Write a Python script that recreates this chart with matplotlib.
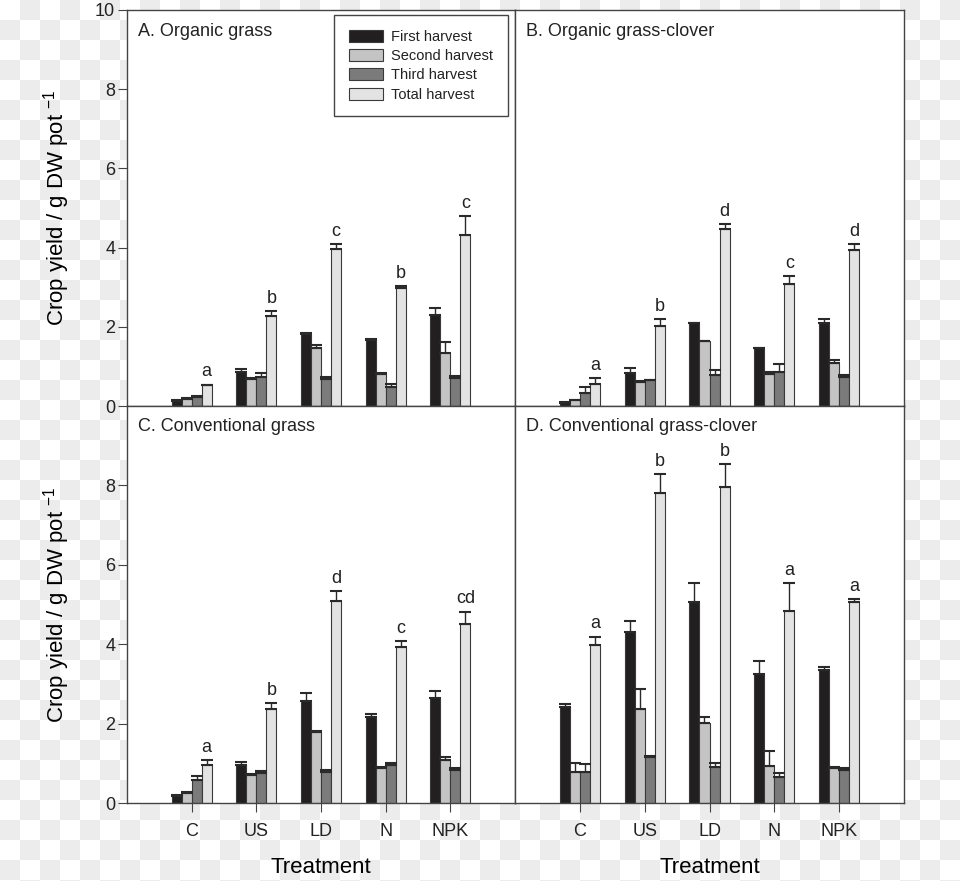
import numpy as np
import matplotlib.pyplot as plt

plt.rcParams['font.family'] = ['Liberation Sans', 'DejaVu Sans']
plt.rcParams['mathtext.fontset'] = 'custom'
plt.rcParams['mathtext.rm'] = 'Liberation Sans'
plt.rcParams['mathtext.default'] = 'regular'
plt.rcParams['text.color'] = '#222222'

treatments = ['C', 'US', 'LD', 'N', 'NPK']
harvests = ['First harvest', 'Second harvest', 'Third harvest', 'Total harvest']
colors = ['#221f20', '#c4c4c4', '#7b7b7b', '#e3e3e3']

# A. Organic grass
a_first = [0.13, 0.87, 1.81, 1.66, 2.29]
a_second = [0.17, 0.68, 1.47, 0.82, 1.35]
a_third = [0.22, 0.73, 0.68, 0.49, 0.70]
a_total = [0.52, 2.27, 3.97, 2.99, 4.33]
a_err_first = [0.02, 0.07, 0.04, 0.02, 0.19]
a_err_second = [0.02, 0.02, 0.08, 0.02, 0.26]
a_err_third = [0.02, 0.11, 0.06, 0.06, 0.07]
a_err_total = [0.02, 0.13, 0.12, 0.04, 0.46]
a_letters = ['a', 'b', 'c', 'b', 'c']

# B. Organic grass-clover
b_first = [0.08, 0.84, 2.09, 1.46, 2.10]
b_second = [0.14, 0.61, 1.63, 0.82, 1.09]
b_third = [0.32, 0.65, 0.79, 0.86, 0.73]
b_total = [0.56, 2.03, 4.46, 3.09, 3.93]
b_err_first = [0.03, 0.11, 0.01, 0.01, 0.09]
b_err_second = [0.01, 0.02, 0.02, 0.04, 0.07]
b_err_third = [0.15, 0.01, 0.12, 0.19, 0.05]
b_err_total = [0.15, 0.16, 0.13, 0.19, 0.16]
b_letters = ['a', 'b', 'd', 'c', 'd']

# C. Conventional grass
c_first = [0.17, 0.95, 2.56, 2.16, 2.64]
c_second = [0.25, 0.70, 1.79, 0.88, 1.08]
c_third = [0.58, 0.75, 0.77, 0.96, 0.83]
c_total = [0.96, 2.36, 5.08, 3.93, 4.52]
c_err_first = [0.03, 0.09, 0.22, 0.09, 0.18]
c_err_second = [0.02, 0.02, 0.02, 0.03, 0.09]
c_err_third = [0.10, 0.05, 0.05, 0.05, 0.05]
c_err_total = [0.12, 0.16, 0.26, 0.15, 0.30]
c_letters = ['a', 'b', 'd', 'c', 'cd']

# D. Conventional grass-clover
d_first = [2.42, 4.31, 5.06, 3.24, 3.36]
d_second = [0.78, 2.38, 2.02, 0.93, 0.88]
d_third = [0.78, 1.17, 0.90, 0.66, 0.83]
d_total = [3.98, 7.80, 7.96, 4.83, 5.06]
d_err_first = [0.08, 0.28, 0.47, 0.33, 0.06]
d_err_second = [0.23, 0.48, 0.15, 0.39, 0.02]
d_err_third = [0.20, 0.02, 0.12, 0.09, 0.04]
d_err_total = [0.21, 0.48, 0.57, 0.70, 0.07]
d_letters = ['a', 'b', 'b', 'a', 'a']

panels = [
    ('A. Organic grass', [a_first, a_second, a_third, a_total],
     [a_err_first, a_err_second, a_err_third, a_err_total], a_letters),
    ('B. Organic grass-clover', [b_first, b_second, b_third, b_total],
     [b_err_first, b_err_second, b_err_third, b_err_total], b_letters),
    ('C. Conventional grass', [c_first, c_second, c_third, c_total],
     [c_err_first, c_err_second, c_err_third, c_err_total], c_letters),
    ('D. Conventional grass-clover', [d_first, d_second, d_third, d_total],
     [d_err_first, d_err_second, d_err_third, d_err_total], d_letters),
]

W, H = 960, 881
fig = plt.figure(figsize=(W / 100, H / 100), dpi=100)

# checkered background of the source image
bg = fig.add_axes([0, 0, 1, 1], zorder=-5)
nx, ny = W // 20 + 1, H // 20 + 1
ii, jj = np.meshgrid(np.arange(nx), np.arange(ny))
chk = np.where(((ii + jj) % 2)[..., None] == 1, 236 / 255, 1.0) * np.ones(3)
bg.imshow(chk, extent=(0, nx * 20, ny * 20, 0), interpolation='nearest', aspect='auto')
bg.set_xlim(0, W)
bg.set_ylim(H, 0)
bg.axis('off')

# axes rectangles in pixels: (left, top, right, bottom)
rects = [(127, 10, 515, 406), (515, 10, 904, 406),
         (127, 406, 515, 803), (515, 406, 904, 803)]

x = np.arange(1, len(treatments) + 1)
bw = 10 / 64.7
offs = [-1.5 * bw, -0.5 * bw, 0.5 * bw, 1.5 * bw]
edge = '#3a3a3a'

axes = []
for k, (rect, (title, vals, errs, letters)) in enumerate(zip(rects, panels)):
    l, t, r, b = rect
    ax = fig.add_axes([l / W, (H - b) / H, (r - l) / W, (b - t) / H])
    axes.append(ax)
    for j in range(4):
        ax.bar(x + offs[j], vals[j], bw, color=colors[j], edgecolor=edge,
               linewidth=0.8, label=harvests[j], zorder=2)
        ax.errorbar(x + offs[j], vals[j], yerr=[np.zeros(5), errs[j]], fmt='none',
                    ecolor='#2a2a2a', elinewidth=1.0, capsize=4.3, capthick=1.5, zorder=3)
    tops = np.array(vals[3]) + np.array(errs[3])
    for xi, yi, lab in zip(x + offs[3], tops, letters):
        ax.annotate(lab, (xi, yi), xytext=(0, 3), textcoords='offset points',
                    ha='center', va='bottom', fontsize=13)
    ax.set_xlim(0, 6)
    ax.set_ylim(0, 10)
    ax.text(11 / (r - l), 1 - 21 / (b - t), title, transform=ax.transAxes,
            ha='left', va='center', fontsize=13)
    for s in ax.spines.values():
        s.set_color('#444444')
        s.set_linewidth(1.0)
    ax.tick_params(direction='out', length=6.5, width=0.8, color='#444444',
                   labelsize=13, labelcolor='#222222')
    ax.tick_params(axis='y', pad=2)
    ax.tick_params(axis='x', pad=8)
    if k % 2 == 0:
        ax.set_yticks([0, 2, 4, 6, 8, 10] if k == 0 else [0, 2, 4, 6, 8])
        ax.set_ylabel('Crop yield / g DW pot $^{-1}$', fontsize=16)
        ax.yaxis.set_label_coords(-55 / 388, 0.5)
    else:
        ax.set_yticks([])
    if k >= 2:
        ax.set_xticks(x)
        ax.set_xticklabels(treatments)
        ax.set_xlabel('Treatment', fontsize=16)
        ax.xaxis.set_label_coords(0.5, -0.135)
    else:
        ax.set_xticks([])

leg = axes[0].legend(loc='upper right', bbox_to_anchor=(1 - 7 / 388, 1 - 5 / 396),
                     borderaxespad=0, fontsize=10.5, handlelength=2.33, handleheight=0.9,
                     handletextpad=0.6, labelspacing=0.36, borderpad=1.0,
                     fancybox=False, framealpha=1)
leg.get_frame().set_edgecolor('#444444')
leg.get_frame().set_linewidth(1.0)
for txt in leg.get_texts():
    txt.set_color('#222222')

fig.savefig('out.png', dpi=100)
